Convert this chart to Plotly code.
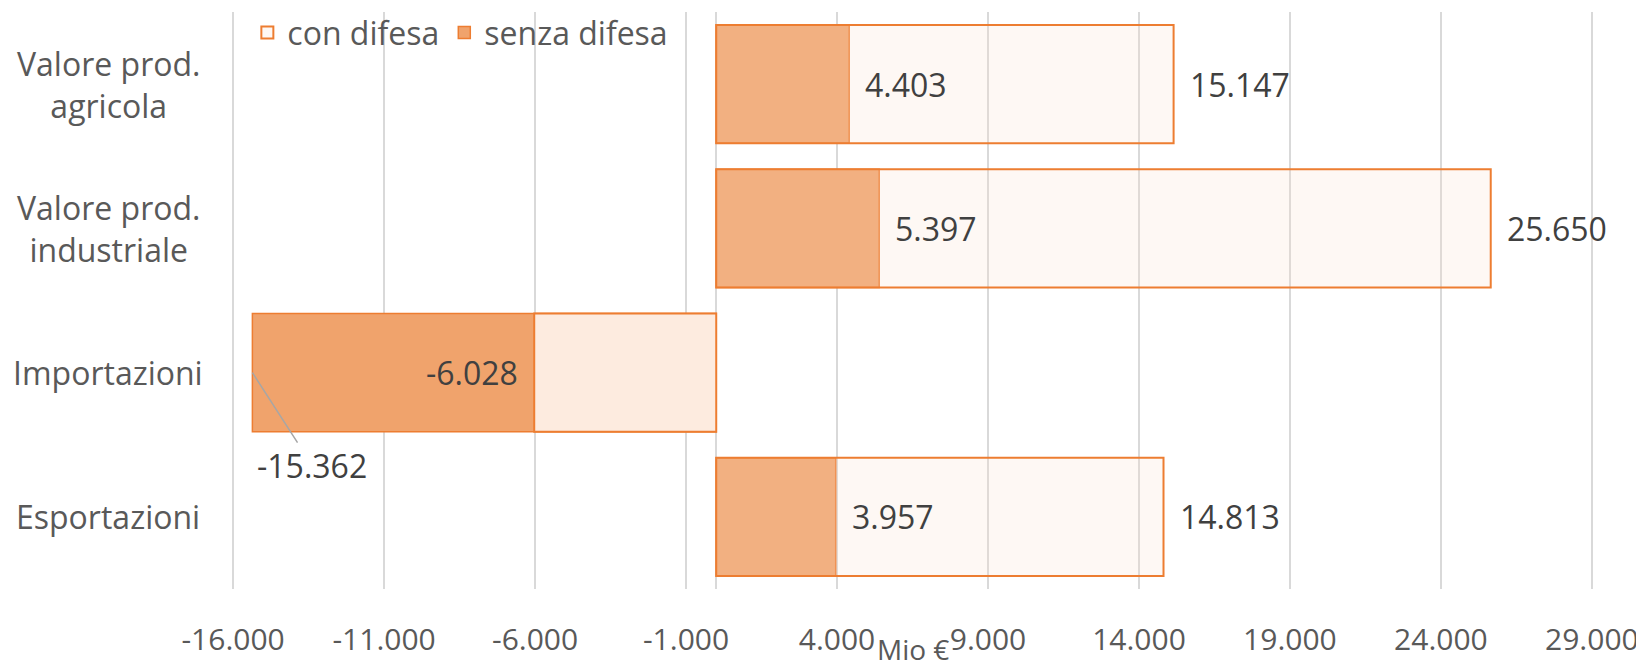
import plotly.graph_objects as go

categories = ["Valore prod.<br>agricola", "Valore prod.<br>industriale", "Importazioni", "Esportazioni"]
con_difesa = [15147, 25650, -6028, 14813]
senza_difesa = [4403, 5397, -15362, 3957]
tick_vals = [-16000, -11000, -6000, -1000, 4000, 9000, 14000, 19000, 24000, 29000]
tick_text = ["-16.000", "-11.000", "-6.000", "-1.000", "4.000", "9.000", "14.000", "19.000", "24.000", "29.000"]

ORANGE = "#ED7D31"
FONT = "Open Sans"


def fmt(v):
    return f"{v:,}".replace(",", ".")


con_colors = ["rgba(250,223,205,0.22)" if v > 0 else "rgba(253,235,223,1)" for v in con_difesa]

fig = go.Figure()
fig.add_trace(go.Bar(
    y=categories, x=senza_difesa, orientation="h", name="senza difesa",
    marker=dict(color="#F0A36C", line=dict(color=ORANGE, width=1.5)),
    legendrank=2, width=0.82,
))
fig.add_trace(go.Bar(
    y=categories, x=con_difesa, orientation="h", name="con difesa",
    marker=dict(color=con_colors, line=dict(color=ORANGE, width=2)),
    legendrank=1, width=0.82,
))

annotations = []
# category labels (centered, multi-line)
for c in categories:
    annotations.append(dict(
        x=0, xref="paper", y=c, yref="y", text=c, showarrow=False,
        xanchor="center", yanchor="middle", xshift=-123, align="center",
        font=dict(family=FONT, size=32, color="#595959"),
    ))
# data labels
for c, v in zip(categories, con_difesa):
    annotations.append(dict(
        x=v, y=c, xref="x", yref="y", text=fmt(v), showarrow=False,
        xanchor="left" if v > 0 else "right", xshift=14 if v > 0 else -14,
        font=dict(family=FONT, size=32, color="#404040"),
    ))
for c, v in zip(categories, senza_difesa):
    if v > 0:
        annotations.append(dict(
            x=v, y=c, xref="x", yref="y", text=fmt(v), showarrow=False,
            xanchor="left", xshift=14,
            font=dict(family=FONT, size=32, color="#404040"),
        ))
    else:
        annotations.append(dict(
            x=v, y=c, xref="x", yref="y", text=fmt(v), showarrow=True,
            ax=60, ay=93, arrowhead=0, arrowwidth=1.5, arrowcolor="#A6A6A6",
            standoff=0, startstandoff=0,
            font=dict(family=FONT, size=32, color="#404040"),
        ))
# axis title
annotations.append(dict(
    x=0.5, xref="paper", y=0, yref="paper", yshift=-60, text="Mio €",
    showarrow=False, xanchor="center", yanchor="middle",
    font=dict(family=FONT, size=28, color="#595959"),
))

fig.update_layout(
    width=1644, height=666,
    margin=dict(l=223, r=58, t=4, b=85, autoexpand=False),
    barmode="overlay",
    plot_bgcolor="white", paper_bgcolor="white",
    font=dict(family=FONT, size=30, color="#595959"),
    showlegend=True,
    legend=dict(
        orientation="h", x=0.012, y=1.012, xanchor="left", yanchor="top",
        bgcolor="rgba(0,0,0,0)", font=dict(family=FONT, size=32, color="#595959"),
        traceorder="normal",
    ),
    annotations=annotations,
)
fig.update_xaxes(
    range=[-16070, 29070], tickvals=tick_vals, ticktext=tick_text,
    showgrid=True, gridcolor="#D9D9D9", gridwidth=1.5,
    zeroline=True, zerolinecolor="#D9D9D9", zerolinewidth=1.5,
    showline=False, ticks="", ticklabelstandoff=30, automargin=False,
    tickfont=dict(family=FONT, size=30, color="#595959"),
)
fig.update_yaxes(
    autorange="reversed", showticklabels=False, showgrid=False,
    zeroline=False, showline=False, ticks="", automargin=False,
)

fig.write_html("out.html")
